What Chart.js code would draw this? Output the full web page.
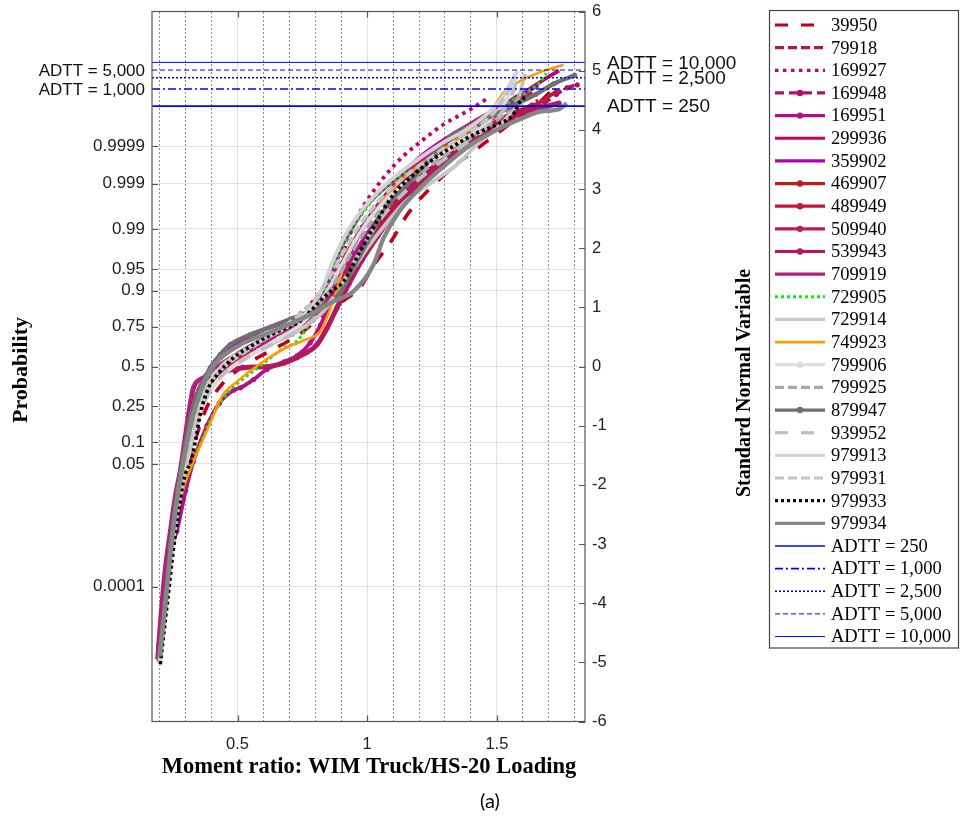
<!DOCTYPE html>
<html>
<head>
<meta charset="utf-8">
<script src="https://cdn.jsdelivr.net/npm/chart.js@4.4.1/dist/chart.umd.min.js"></script>
<style>
  html, body { margin: 0; padding: 0; background: #fff; }
  #wrap { position: relative; width: 964px; height: 818px; }
</style>
</head>
<body>
<div id="wrap"><canvas id="chart" width="964" height="818"></canvas></div>
<script>
// axis ticks
const xMajorTicks = [0.5, 1, 1.5];
const xMinorTicks = [0.2, 0.3, 0.4, 0.6, 0.7, 0.8, 0.9, 1.1, 1.2, 1.3, 1.4, 1.6, 1.7, 1.8];
const probLabels = ['0.0001', '0.05', '0.1', '0.25', '0.5', '0.75', '0.9', '0.95', '0.99', '0.999', '0.9999'];
const probZ = [-3.719, -1.645, -1.282, -0.674, 0, 0.674, 1.282, 1.645, 2.326, 3.090, 3.719];
const snvTicks = [-6, -5, -4, -3, -2, -1, 0, 1, 2, 3, 4, 5, 6];

// ADTT reference levels (standard normal variable)
const adttNames = ['ADTT = 250', 'ADTT = 1,000', 'ADTT = 2,500', 'ADTT = 5,000', 'ADTT = 10,000'];
const adttZ = [4.40, 4.69, 4.88, 5.01, 5.14];

// series: [moment ratio, standard normal variable]
const s39950 = [[0.205,-4.7],[0.235,-3.5],[0.265,-2.6],[0.3,-1.9],[0.34,-1.2],[0.38,-0.7],[0.44,-0.3],[0.52,0.0],[0.62,0.25],[0.74,0.55],[0.85,0.95],[0.92,1.15],[0.97,1.32],[1.03,1.74],[1.09,2.1],[1.16,2.6],[1.24,3.0],[1.34,3.4],[1.46,3.8],[1.58,4.2],[1.66,4.45],[1.72,4.7]];
const s79918 = [[0.203,-4.85],[0.224,-4.0],[0.248,-3.0],[0.27,-2.35],[0.292,-1.85],[0.318,-1.35],[0.345,-0.85],[0.375,-0.48],[0.415,-0.2],[0.48,0.05],[0.56,0.25],[0.65,0.45],[0.74,0.65],[0.81,0.9],[0.87,1.25],[0.93,1.7],[0.99,2.15],[1.05,2.55],[1.12,2.9],[1.2,3.2],[1.29,3.5],[1.39,3.8],[1.49,4.05],[1.58,4.28],[1.66,4.5]];
const s169927 = [[0.195,-4.9],[0.22,-3.9],[0.25,-2.9],[0.28,-2.1],[0.31,-1.5],[0.34,-1.0],[0.37,-0.55],[0.42,-0.15],[0.5,0.15],[0.6,0.45],[0.7,0.75],[0.8,1.15],[0.89,1.75],[0.96,2.51],[1.03,3.0],[1.1,3.38],[1.15,3.6],[1.2,3.78],[1.294,4.09],[1.4,4.35],[1.467,4.54]];
const s169948 = [[0.196,-4.7],[0.215,-3.9],[0.24,-3.0],[0.262,-2.4],[0.285,-1.8],[0.31,-1.25],[0.34,-0.75],[0.37,-0.4],[0.41,-0.15],[0.47,0.08],[0.55,0.28],[0.64,0.45],[0.73,0.62],[0.8,0.85],[0.86,1.2],[0.92,1.6],[0.98,2.0],[1.05,2.45],[1.13,2.9],[1.22,3.3],[1.32,3.62],[1.42,3.9],[1.52,4.1],[1.6,4.25],[1.667,4.4],[1.73,4.6],[1.77,4.71],[1.81,4.76]];
const s169951 = [[0.2,-4.9],[0.222,-4.0],[0.25,-3.0],[0.266,-2.78],[0.3,-2.1],[0.33,-1.6],[0.382,-1.0],[0.43,-0.62],[0.485,-0.4],[0.511,-0.36],[0.562,-0.22],[0.613,-0.05],[0.68,0.08],[0.729,0.18],[0.78,0.4],[0.82,0.7],[0.86,1.1],[0.9,1.5],[0.95,1.9],[1.0,2.25],[1.06,2.6],[1.13,3.0],[1.22,3.4],[1.3,3.7],[1.38,3.95],[1.47,4.2],[1.55,4.45],[1.6,4.6]];
const s299936 = [[0.197,-4.75],[0.214,-4.0],[0.236,-3.0],[0.256,-2.4],[0.276,-1.9],[0.298,-1.4],[0.32,-0.95],[0.345,-0.55],[0.38,-0.25],[0.43,0.0],[0.5,0.22],[0.58,0.42],[0.67,0.6],[0.75,0.78],[0.81,1.0],[0.86,1.3],[0.91,1.75],[0.96,2.2],[1.02,2.6],[1.08,2.95],[1.16,3.3],[1.25,3.62],[1.35,3.92],[1.45,4.18],[1.55,4.45],[1.63,4.7],[1.7,4.9],[1.74,5.0]];
const s359902 = [[0.195,-4.8],[0.212,-4.0],[0.229,-3.4],[0.25,-2.6],[0.27,-2.0],[0.29,-1.5],[0.31,-1.0],[0.335,-0.55],[0.37,-0.2],[0.42,0.1],[0.5,0.38],[0.6,0.62],[0.7,0.8],[0.78,0.95],[0.83,1.2],[0.875,1.7],[0.91,2.1],[0.95,2.4],[0.99,2.68],[1.05,2.95],[1.13,3.25],[1.22,3.6],[1.32,3.9],[1.42,4.15],[1.5,4.35],[1.58,4.55],[1.66,4.75]];
const s469907 = [[0.2,-4.6],[0.22,-3.9],[0.245,-3.0],[0.268,-2.3],[0.29,-1.8],[0.315,-1.3],[0.345,-0.8],[0.375,-0.45],[0.41,-0.2],[0.47,0.05],[0.55,0.25],[0.64,0.45],[0.74,0.65],[0.82,0.9],[0.88,1.25],[0.94,1.65],[1.0,2.05],[1.05,2.34],[1.12,2.75],[1.2,3.05],[1.28,3.35],[1.36,3.65],[1.43,3.95],[1.5,4.15],[1.57,4.3],[1.64,4.42]];
const s489949 = [[0.2,-4.8],[0.22,-4.0],[0.245,-3.0],[0.266,-2.4],[0.287,-1.9],[0.31,-1.4],[0.335,-0.9],[0.36,-0.5],[0.395,-0.22],[0.45,0.0],[0.53,0.2],[0.62,0.38],[0.71,0.55],[0.79,0.78],[0.85,1.1],[0.91,1.5],[0.97,1.9],[1.03,2.3],[1.1,2.7],[1.18,3.05],[1.27,3.4],[1.37,3.72],[1.47,3.98],[1.56,4.2],[1.65,4.42],[1.73,4.65]];
const s509940 = [[0.198,-4.9],[0.218,-4.0],[0.24,-3.1],[0.26,-2.5],[0.28,-1.95],[0.302,-1.45],[0.325,-0.95],[0.35,-0.55],[0.385,-0.28],[0.44,-0.05],[0.52,0.18],[0.61,0.4],[0.7,0.62],[0.77,0.85],[0.82,1.1],[0.87,1.45],[0.92,1.9],[0.98,2.35],[1.05,2.75],[1.13,3.1],[1.22,3.45],[1.31,3.75],[1.4,4.0],[1.48,4.2],[1.56,4.42],[1.63,4.6]];
const s539943 = [[0.198,-4.85],[0.215,-4.0],[0.238,-3.0],[0.258,-2.4],[0.278,-1.9],[0.3,-1.4],[0.32,-0.9],[0.345,-0.5],[0.38,-0.25],[0.44,-0.1],[0.52,-0.02],[0.62,0.0],[0.68,0.06],[0.729,0.15],[0.806,0.37],[0.845,0.65],[0.883,0.99],[0.93,1.4],[0.98,1.8],[1.04,2.2],[1.1,2.6],[1.17,3.0],[1.26,3.35],[1.36,3.7],[1.46,4.0],[1.56,4.25],[1.667,4.37],[1.74,4.45]];
const s709919 = [[0.192,-4.95],[0.205,-4.2],[0.222,-3.4],[0.241,-2.79],[0.26,-2.2],[0.279,-1.77],[0.295,-1.3],[0.311,-0.81],[0.33,-0.36],[0.369,-0.19],[0.41,-0.05],[0.46,0.1],[0.53,0.25],[0.6,0.4],[0.68,0.55],[0.76,0.75],[0.82,1.0],[0.87,1.35],[0.92,1.8],[0.97,2.25],[1.03,2.65],[1.1,3.0],[1.18,3.35],[1.26,3.65],[1.35,3.95],[1.44,4.2],[1.53,4.42],[1.6,4.62]];
const s729905 = [[0.2,-5.0],[0.222,-4.0],[0.248,-3.0],[0.27,-2.4],[0.295,-2.0],[0.318,-1.73],[0.356,-1.32],[0.382,-1.04],[0.42,-0.7],[0.46,-0.45],[0.51,-0.25],[0.594,0.03],[0.677,0.31],[0.729,0.43],[0.78,0.75],[0.832,1.22],[0.86,1.5],[0.883,1.81],[0.94,2.3],[1.02,2.8],[1.12,3.2],[1.243,3.47],[1.35,3.85],[1.43,4.1],[1.487,4.26],[1.56,4.5],[1.641,4.71],[1.68,4.88],[1.69,4.96]];
const s729914 = [[0.201,-4.95],[0.224,-4.0],[0.25,-3.0],[0.272,-2.3],[0.295,-1.8],[0.32,-1.35],[0.35,-0.85],[0.38,-0.5],[0.42,-0.25],[0.48,0.0],[0.56,0.22],[0.65,0.42],[0.74,0.62],[0.82,0.88],[0.88,1.2],[0.94,1.6],[1.0,2.0],[1.07,2.4],[1.15,2.8],[1.256,3.13],[1.346,3.41],[1.423,3.75],[1.525,4.14],[1.58,4.5],[1.6,4.8],[1.61,4.95]];
const s749923 = [[0.202,-5.05],[0.225,-4.0],[0.25,-3.0],[0.272,-2.4],[0.295,-2.0],[0.33,-1.6],[0.37,-1.2],[0.4,-0.9],[0.44,-0.5],[0.5,-0.25],[0.588,0.05],[0.68,0.3],[0.76,0.45],[0.82,0.6],[0.86,1.0],[0.883,1.3],[0.91,1.7],[0.95,2.1],[1.02,2.55],[1.089,2.96],[1.2,3.4],[1.32,3.75],[1.42,4.1],[1.49,4.4],[1.524,4.62],[1.58,4.8],[1.67,4.98],[1.757,5.1]];
const s799906 = [[0.201,-5.0],[0.224,-4.0],[0.25,-3.0],[0.273,-2.3],[0.296,-1.8],[0.322,-1.3],[0.352,-0.8],[0.385,-0.45],[0.43,-0.2],[0.5,0.05],[0.58,0.27],[0.66,0.48],[0.74,0.7],[0.8,0.98],[0.85,1.3],[0.9,1.7],[0.95,2.1],[1.01,2.5],[1.08,2.85],[1.16,3.15],[1.25,3.45],[1.34,3.72],[1.43,4.0],[1.5,4.3],[1.55,4.6],[1.57,4.85]];
const s799925 = [[0.199,-4.9],[0.221,-4.0],[0.245,-3.0],[0.266,-2.35],[0.286,-1.85],[0.308,-1.38],[0.332,-0.9],[0.36,-0.5],[0.392,-0.22],[0.44,0.02],[0.51,0.25],[0.59,0.45],[0.67,0.63],[0.75,0.82],[0.82,1.08],[0.88,1.45],[0.93,1.85],[0.99,2.28],[1.06,2.68],[1.14,3.02],[1.23,3.35],[1.33,3.66],[1.43,3.95],[1.51,4.2],[1.57,4.45],[1.6,4.7]];
const s879947 = [[0.198,-4.95],[0.22,-4.0],[0.242,-3.0],[0.262,-2.3],[0.28,-1.8],[0.3,-1.3],[0.322,-0.8],[0.35,-0.4],[0.38,-0.15],[0.395,-0.02],[0.433,0.2],[0.472,0.37],[0.549,0.54],[0.65,0.7],[0.75,0.88],[0.82,1.0],[0.896,1.25],[0.95,1.7],[1.0,2.1],[1.063,2.62],[1.153,3.07],[1.24,3.5],[1.32,3.88],[1.436,4.14],[1.55,4.38],[1.65,4.6],[1.72,4.78],[1.8,4.92]];
const s939952 = [[0.2,-4.9],[0.225,-3.9],[0.252,-2.9],[0.275,-2.2],[0.3,-1.7],[0.33,-1.2],[0.36,-0.75],[0.395,-0.4],[0.44,-0.15],[0.51,0.08],[0.6,0.3],[0.69,0.5],[0.77,0.72],[0.84,1.0],[0.9,1.38],[0.96,1.85],[1.02,2.3],[1.09,2.7],[1.17,3.05],[1.26,3.38],[1.36,3.7],[1.45,4.0],[1.52,4.3],[1.56,4.6],[1.58,4.9]];
const s979913 = [[0.2,-5.0],[0.223,-4.0],[0.248,-3.0],[0.27,-2.3],[0.29,-1.85],[0.312,-1.4],[0.338,-0.9],[0.365,-0.5],[0.4,-0.2],[0.45,0.05],[0.53,0.28],[0.62,0.5],[0.71,0.72],[0.78,0.98],[0.83,1.35],[0.86,1.7],[0.89,2.0],[0.94,2.4],[1.01,2.8],[1.09,3.15],[1.18,3.45],[1.28,3.75],[1.38,4.0],[1.47,4.3],[1.53,4.6],[1.56,4.85],[1.58,5.0]];
const s979931 = [[0.2,-4.95],[0.222,-4.0],[0.247,-3.0],[0.268,-2.35],[0.288,-1.85],[0.31,-1.4],[0.335,-0.92],[0.362,-0.55],[0.398,-0.25],[0.45,0.0],[0.52,0.22],[0.6,0.45],[0.68,0.68],[0.75,0.92],[0.81,1.2],[0.86,1.55],[0.91,1.95],[0.97,2.38],[1.04,2.78],[1.12,3.12],[1.21,3.42],[1.3,3.7],[1.4,3.98],[1.48,4.25],[1.53,4.55],[1.56,4.8]];
const s979933 = [[0.202,-5.03],[0.229,-4.0],[0.255,-3.0],[0.275,-2.4],[0.291,-1.94],[0.324,-1.54],[0.34,-1.2],[0.356,-0.81],[0.388,-0.36],[0.421,-0.14],[0.485,0.15],[0.562,0.37],[0.645,0.57],[0.742,0.77],[0.793,0.99],[0.845,1.22],[0.909,1.44],[0.973,1.95],[1.037,2.45],[1.101,2.91],[1.166,3.19],[1.243,3.47],[1.32,3.69],[1.41,3.92],[1.5,4.09],[1.564,4.26],[1.59,4.48],[1.617,4.57]];
const s979934 = [[0.2,-4.9],[0.222,-4.0],[0.245,-3.0],[0.265,-2.3],[0.283,-1.8],[0.305,-1.3],[0.33,-0.8],[0.36,-0.4],[0.39,-0.1],[0.43,0.12],[0.511,0.37],[0.639,0.6],[0.767,0.85],[0.87,1.1],[0.947,1.27],[1.024,1.72],[1.063,2.17],[1.12,2.6],[1.2,3.0],[1.3,3.4],[1.4,3.75],[1.5,4.0],[1.6,4.2],[1.667,4.31],[1.74,4.35],[1.77,4.45]];

const seriesNames = ['39950','79918','169927','169948','169951','299936','359902','469907','489949','509940','539943','709919','729905','729914','749923','799906','799925','879947','939952','979913','979931','979933','979934'];
const seriesData = [s39950,s79918,s169927,s169948,s169951,s299936,s359902,s469907,s489949,s509940,s539943,s709919,s729905,s729914,s749923,s799906,s799925,s879947,s939952,s979913,s979931,s979933,s979934];

// line styles, one per series
const seriesStyle = {
  '39950':  { color: '#C0001E', dash: [13, 13], width: 3.6, dot: 0 },
  '79918':  { color: '#BD1248', dash: [9, 4], width: 3.6, dot: 0 },
  '169927': { color: '#C5006C', dash: [3.5, 4.5], width: 3.8, dot: 0 },
  '169948': { color: '#B20F66', dash: [9, 5], width: 3.6, dot: 2.6 },
  '169951': { color: '#B3108E', dash: [], width: 3.8, dot: 2.6 },
  '299936': { color: '#D0005A', dash: [], width: 3.8, dot: 0 },
  '359902': { color: '#B400B4', dash: [], width: 3.8, dot: 0 },
  '469907': { color: '#B8201C', dash: [], width: 3.8, dot: 2.6 },
  '489949': { color: '#C01838', dash: [], width: 3.8, dot: 2.6 },
  '509940': { color: '#BA1F4C', dash: [], width: 3.8, dot: 2.6 },
  '539943': { color: '#B2185E', dash: [], width: 5, dot: 2.6 },
  '709919': { color: '#B0207C', dash: [], width: 5, dot: 0 },
  '729905': { color: '#00F000', dash: [3, 3], width: 3, dot: 0 },
  '729914': { color: '#C6C6C6', dash: [], width: 3.8, dot: 0 },
  '749923': { color: '#FF9A00', dash: [], width: 2.6, dot: 0 },
  '799906': { color: '#DCDCDC', dash: [], width: 3.8, dot: 2.4 },
  '799925': { color: '#A8A8A8', dash: [9, 4], width: 3.8, dot: 0 },
  '879947': { color: '#707070', dash: [], width: 4.4, dot: 2.6 },
  '939952': { color: '#BEBEBE', dash: [13, 13], width: 3.8, dot: 0 },
  '979913': { color: '#D2D2D2', dash: [], width: 3.8, dot: 0 },
  '979931': { color: '#C4C4C4', dash: [9, 4], width: 3.8, dot: 0 },
  '979933': { color: '#000000', dash: [3, 3], width: 3.6, dot: 0 },
  '979934': { color: '#858585', dash: [], width: 4.4, dot: 0 }
};
const adttStyle = [
  { dash: [], width: 1.6 },
  { dash: [8, 3, 2, 3], width: 1.6 },
  { dash: [2, 2], width: 1.6 },
  { dash: [5, 3], width: 1 },
  { dash: [], width: 1 }
];

const X_MIN = 0.17, X_MAX = 1.84;
const N = seriesNames.length;

const datasets = seriesNames.map((name, i) => {
  const st = seriesStyle[name];
  return {
    label: name,
    data: seriesData[i].map(p => ({ x: p[0], y: p[1] })),
    borderColor: st.color,
    backgroundColor: st.color,
    borderWidth: st.width,
    borderDash: st.dash,
    pointRadius: st.dot,
    pointBorderWidth: 0,
    pointBackgroundColor: st.color,
    cubicInterpolationMode: 'monotone',
    fill: false,
    order: N - i + 10,
    xAxisID: 'x',
    yAxisID: 'y'
  };
});
adttNames.forEach((name, i) => {
  datasets.push({
    label: name,
    data: [{ x: X_MIN, y: adttZ[i] }, { x: X_MAX, y: adttZ[i] }],
    borderColor: '#0000FF',
    backgroundColor: '#0000FF',
    borderWidth: adttStyle[i].width,
    borderDash: adttStyle[i].dash,
    pointRadius: 0,
    fill: false,
    order: -i,
    xAxisID: 'x',
    yAxisID: 'y'
  });
});

const SANS = '"Liberation Sans", Arial, sans-serif';
const SERIF = '"Liberation Serif", "Times New Roman", serif';

// frame, inward ticks, titles, ADTT labels
const framePlugin = {
  id: 'frame',
  afterDatasetsDraw(chart) {
    const { ctx, chartArea: a, scales } = chart;
    ctx.save();
    ctx.strokeStyle = '#555';
    ctx.lineWidth = 1.2;
    ctx.setLineDash([]);
    ctx.strokeRect(a.left, a.top, a.right - a.left, a.bottom - a.top);
    ctx.beginPath();
    xMajorTicks.forEach(v => {
      const px = Math.round(scales.x.getPixelForValue(v)) + 0.5;
      ctx.moveTo(px, a.bottom); ctx.lineTo(px, a.bottom - 6);
      ctx.moveTo(px, a.top); ctx.lineTo(px, a.top + 6);
    });
    probZ.forEach(v => {
      const py = Math.round(scales.y.getPixelForValue(v)) + 0.5;
      ctx.moveTo(a.left, py); ctx.lineTo(a.left + 6, py);
    });
    snvTicks.forEach(v => {
      const py = Math.round(scales.y2.getPixelForValue(v)) + 0.5;
      ctx.moveTo(a.right, py); ctx.lineTo(a.right - 6, py);
    });
    ctx.stroke();

    // ADTT labels
    ctx.fillStyle = '#111';
    ctx.textBaseline = 'middle';
    ctx.font = '17px ' + SANS;
    ctx.textAlign = 'right';
    [3, 1].forEach(i => ctx.fillText(adttNames[i], a.left - 7, scales.y.getPixelForValue(adttZ[i]) + 1));
    ctx.font = '19px ' + SANS;
    ctx.textAlign = 'left';
    [4, 2, 0].forEach(i => ctx.fillText(adttNames[i], a.right + 22, scales.y.getPixelForValue(adttZ[i]) + 1));

    // axis titles
    ctx.fillStyle = '#000';
    ctx.textAlign = 'center';
    ctx.textBaseline = 'middle';
    ctx.font = 'bold 22.5px ' + SERIF;
    ctx.fillText('Moment ratio: WIM Truck/HS-20 Loading', 369, 767);
    ctx.save();
    ctx.translate(21, 370);
    ctx.rotate(-Math.PI / 2);
    ctx.font = 'bold 22px ' + SERIF;
    ctx.fillText('Probability', 0, 0);
    ctx.restore();
    ctx.save();
    ctx.translate(745, 383);
    ctx.rotate(-Math.PI / 2);
    ctx.font = 'bold 20px ' + SERIF;
    ctx.fillText('Standard Normal Variable', 0, 0);
    ctx.restore();

    ctx.font = '20px Lato, "Open Sans", sans-serif';
    ctx.fillText('(a)', 490, 802);
    ctx.restore();
  }
};

// boxed legend on the right
const legendPlugin = {
  id: 'boxLegend',
  afterDraw(chart) {
    const ctx = chart.ctx;
    ctx.save();
    ctx.fillStyle = '#fff';
    ctx.fillRect(769.5, 10.5, 189, 637.5);
    ctx.strokeStyle = '#444';
    ctx.lineWidth = 1.2;
    ctx.setLineDash([]);
    ctx.strokeRect(769.5, 10.5, 189, 637.5);
    chart.data.datasets.forEach((ds, i) => {
      const y = 25 + i * 22.65;
      ctx.strokeStyle = ds.borderColor;
      ctx.lineWidth = Math.min(ds.borderWidth, 3.2);
      ctx.setLineDash(ds.borderDash || []);
      ctx.beginPath();
      ctx.moveTo(775, y);
      ctx.lineTo(825, y);
      ctx.stroke();
      if (ds.pointRadius > 0) {
        ctx.setLineDash([]);
        ctx.fillStyle = ds.borderColor;
        ctx.beginPath();
        ctx.arc(800, y, 3.2, 0, Math.PI * 2);
        ctx.fill();
      }
      ctx.fillStyle = '#000';
      ctx.font = '18.5px ' + SERIF;
      ctx.textAlign = 'left';
      ctx.textBaseline = 'middle';
      ctx.fillText(ds.label, 831, y + 1);
    });
    ctx.restore();
  }
};

// vertical scales: no extra room reserved for the end labels
const noOverhang = s => { s.paddingTop = 0; s.paddingBottom = 0; };

new Chart(document.getElementById('chart'), {
  type: 'line',
  data: { datasets },
  options: {
    responsive: false,
    animation: false,
    events: [],
    layout: { padding: { top: 11.5, left: 0, right: 0, bottom: 0 } },
    plugins: { legend: { display: false }, tooltip: { enabled: false } },
    scales: {
      x: {
        type: 'linear',
        position: 'bottom',
        min: X_MIN,
        max: X_MAX,
        afterBuildTicks: s => { s.ticks = xMajorTicks.map(v => ({ value: v })); },
        afterFit: s => { s.height = 96.5; s.paddingLeft = 0; s.paddingRight = 0; },
        grid: { color: '#E0E0E0', lineWidth: 1, drawTicks: false },
        border: { display: false },
        ticks: { autoSkip: false, maxRotation: 0, padding: 13, color: '#222', font: { family: SANS, size: 16.5 }, callback: v => String(v) }
      },
      xMinor: {
        type: 'linear',
        position: 'top',
        min: X_MIN,
        max: X_MAX,
        afterBuildTicks: s => { s.ticks = xMinorTicks.map(v => ({ value: v })); },
        afterFit: s => { s.height = 0; s.paddingLeft = 0; s.paddingRight = 0; },
        grid: { color: '#707070', lineWidth: 0.8, drawTicks: false },
        border: { display: false, dash: [2, 2] },
        ticks: { display: false }
      },
      y: {
        type: 'linear',
        position: 'left',
        min: -6,
        max: 6,
        afterBuildTicks: s => { s.ticks = probZ.map(v => ({ value: v })); },
        afterFit: s => { s.width = 152; noOverhang(s); },
        grid: { color: '#E0E0E0', lineWidth: 1, drawTicks: false },
        border: { display: false },
        ticks: {
          autoSkip: false,
          padding: 7,
          color: '#222',
          font: { family: SANS, size: 17 },
          callback: (v, i) => probLabels[i]
        }
      },
      y2: {
        type: 'linear',
        position: 'right',
        min: -6,
        max: 6,
        afterBuildTicks: s => { s.ticks = snvTicks.map(v => ({ value: v })); },
        afterFit: s => { s.width = 379; noOverhang(s); },
        grid: { drawOnChartArea: false, drawTicks: false },
        border: { display: false },
        ticks: { autoSkip: false, padding: 7, color: '#222', font: { family: SANS, size: 16.5 } }
      }
    }
  },
  plugins: [framePlugin, legendPlugin]
});
</script>
</body>
</html>
